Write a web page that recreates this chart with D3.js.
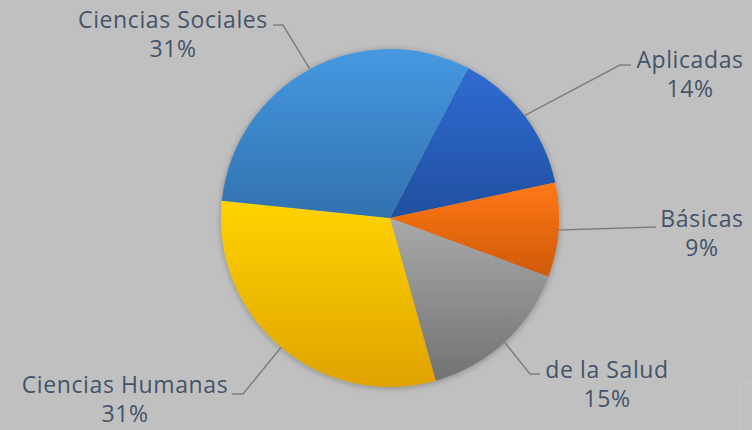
<!DOCTYPE html>
<html>
<head>
<meta charset="utf-8">
<script src="https://cdn.jsdelivr.net/npm/d3@7"></script>
<style>
  html, body { margin: 0; padding: 0; background: #c0c0c0; }
  svg { display: block; }
</style>
</head>
<body>
<div id="area"></div>
<script>
// data, clockwise order starting from Aplicadas
var categories = ["Aplicadas", "Básicas", "de la Salud", "Ciencias Humanas", "Ciencias Sociales"];
var values = [14, 9, 15, 31, 31];
var topColors = ["#2f6cd2", "#ff7814", "#a9a9a9", "#ffd300", "#4599e1"];
var bottomColors = ["#214f9f", "#cf5a0b", "#727272", "#dfa300", "#3171ae"];

// label end points (where the leader line stops) and text side
var labelEnds = [[631, 65], [656, 227], [540, 374], [232, 394], [273, 25]];
var elbows = [[620, 65], null, [530, 374], [243, 394], [283, 25]];
var textPos = [[690, 68], [702, 227], [607, 378], [125, 393], [173, 28]];

var width = 752, height = 430;
var cx = 390, cy = 218, radius = 169;
var startAngle = 27.5 * Math.PI / 180;

var svg = d3.select('#area').append('svg')
            .attr('width', width)
            .attr('height', height);

svg.append('rect')
   .attr('width', width)
   .attr('height', height)
   .attr('fill', '#c0c0c0');

var defs = svg.append('defs');
var shadow = defs.append('filter')
                 .attr('id', 'shadow')
                 .attr('x', '-20%').attr('y', '-20%')
                 .attr('width', '140%').attr('height', '140%');
shadow.append('feDropShadow')
      .attr('dx', 0).attr('dy', 1)
      .attr('stdDeviation', 3)
      .attr('flood-color', '#000')
      .attr('flood-opacity', 0.3);

categories.forEach(function(c, i) {
    var gr = defs.append('linearGradient')
                 .attr('id', 'grad' + i)
                 .attr('x1', 0).attr('y1', 0)
                 .attr('x2', 0).attr('y2', 1);
    gr.append('stop').attr('offset', '0%').attr('stop-color', topColors[i]);
    gr.append('stop').attr('offset', '100%').attr('stop-color', bottomColors[i]);
});

var pie = d3.pie()
            .sort(null)
            .startAngle(startAngle)
            .endAngle(startAngle + 2 * Math.PI)
            .value(function(d) { return d; });

var arc = d3.arc()
            .innerRadius(0)
            .outerRadius(radius);

var arcs = pie(values);

var g = svg.append('g')
           .attr('transform', 'translate(' + cx + ',' + cy + ')');

g.append('g')
 .attr('filter', 'url(#shadow)')
 .selectAll('path')
 .data(arcs)
 .enter().append('path')
 .attr('d', arc)
 .attr('fill', function(d, i) { return 'url(#grad' + i + ')'; });

// leader lines + labels
var total = d3.sum(values);
arcs.forEach(function(d, i) {
    var mid = (d.startAngle + d.endAngle) / 2;
    var p0 = [cx + radius * Math.sin(mid), cy - radius * Math.cos(mid)];
    var pts = [p0];
    if (elbows[i]) pts.push(elbows[i]);
    pts.push(labelEnds[i]);
    svg.append('path')
       .attr('d', d3.line()(pts))
       .attr('fill', 'none')
       .attr('stroke', '#7f7f7f')
       .attr('stroke-width', 1.5);

    var t = svg.append('text')
               .attr('x', textPos[i][0])
               .attr('y', textPos[i][1])
               .attr('text-anchor', 'middle')
               .attr('fill', '#44546a')
               .style('font-family', '"Open Sans", Lato, sans-serif')
               .style('font-size', '23px')
               .style('letter-spacing', '0.6px');
    t.append('tspan')
     .attr('x', textPos[i][0])
     .text(categories[i]);
    t.append('tspan')
     .attr('x', textPos[i][0])
     .attr('dy', 29)
     .text(Math.round(d.data / total * 100) + '%');
});

// faint box corner at bottom right
svg.append('path')
   .attr('d', 'M741,430V383H752')
   .attr('fill', 'none')
   .attr('stroke', '#cfc5c5')
   .attr('stroke-width', 1);
</script>
</body>
</html>
